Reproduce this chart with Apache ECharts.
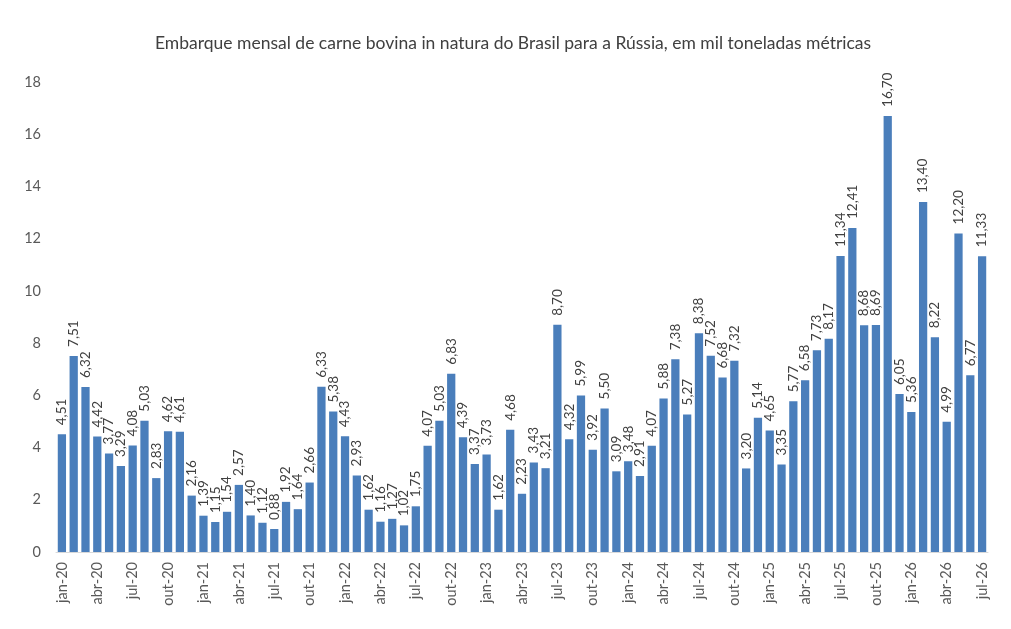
<!DOCTYPE html>
<html>
<head>
<meta charset="utf-8">
<script src="https://cdn.jsdelivr.net/npm/echarts@6/dist/echarts.min.js"></script>
<style>
  html, body { margin: 0; padding: 0; background: #fff; }
  #chart { width: 1011px; height: 629px; }
</style>
</head>
<body>
<div id="chart"></div>
<script>
const years = ['20', '21', '22', '23', '24', '25', '26']
const months = ['jan', 'fev', 'mar', 'abr', 'mai', 'jun', 'jul', 'ago', 'set', 'out', 'nov', 'dez']

// mil toneladas por mês
const vol2020 = [4.51, 7.51, 6.32, 4.42, 3.77, 3.29, 4.08, 5.03, 2.83, 4.62, 4.61, 2.16]
const vol2021 = [1.39, 1.15, 1.54, 2.57, 1.40, 1.12, 0.88, 1.92, 1.64, 2.66, 6.33, 5.38]
const vol2022 = [4.43, 2.93, 1.62, 1.16, 1.27, 1.02, 1.75, 4.07, 5.03, 6.83, 4.39, 3.37]
const vol2023 = [3.73, 1.62, 4.68, 2.23, 3.43, 3.21, 8.70, 4.32, 5.99, 3.92, 5.50, 3.09]
const vol2024 = [3.48, 2.91, 4.07, 5.88, 7.38, 5.27, 8.38, 7.52, 6.68, 7.32, 3.20, 5.14]
const vol2025 = [4.65, 3.35, 5.77, 6.58, 7.73, 8.17, 11.34, 12.41, 8.68, 8.69, 16.70, 6.05]
const vol2026 = [5.36, 13.40, 8.22, 4.99, 12.20, 6.77, 11.33]

const yTicks = [0, 2, 4, 6, 8, 10, 12, 14, 16, 18]

const values = [].concat(vol2020, vol2021, vol2022, vol2023, vol2024, vol2025, vol2026)
const categories = []
years.forEach(y => months.forEach(m => categories.push(m + '-' + y)))
categories.length = values.length

const fonte = 'Lato, "Open Sans", sans-serif'
let myChart = echarts.init(document.getElementById('chart'))

myChart.setOption({
    animation: false,
    title: {
        text: 'Embarque mensal de carne bovina in natura do Brasil para a Rússia, em mil toneladas métricas',
        left: 150,
        top: 29,
        textStyle: { fontFamily: fonte, fontSize: 17.5, fontWeight: 'normal', color: '#404040' }
    },
    grid: { left: 56, right: 23, top: 82, bottom: 77 },
    xAxis: {
        type: 'category',
        data: categories,
        axisLine: { lineStyle: { color: '#d9d9d9' } },
        axisTick: { show: false },
        axisLabel: {
            interval: 2,
            rotate: 90,
            fontFamily: fonte,
            fontSize: 14.5,
            color: '#595959',
            margin: 10
        }
    },
    yAxis: {
        type: 'value',
        min: yTicks[0],
        max: yTicks[yTicks.length - 1],
        interval: 2,
        splitLine: { show: false },
        axisLine: { show: false },
        axisTick: { show: false },
        axisLabel: { fontFamily: fonte, fontSize: 14.5, color: '#595959', margin: 15 }
    },
    series: [{
        type: 'bar',
        data: values,
        barCategoryGap: '30%',
        itemStyle: { color: '#4a7ebb' },
        label: {
            show: true,
            position: 'top',
            rotate: 90,
            align: 'left',
            verticalAlign: 'middle',
            distance: 9,
            fontFamily: fonte,
            fontSize: 13.5,
            color: '#404040',
            formatter: p => p.value.toFixed(2).replace('.', ',')
        }
    }]
})
</script>
</body>
</html>
